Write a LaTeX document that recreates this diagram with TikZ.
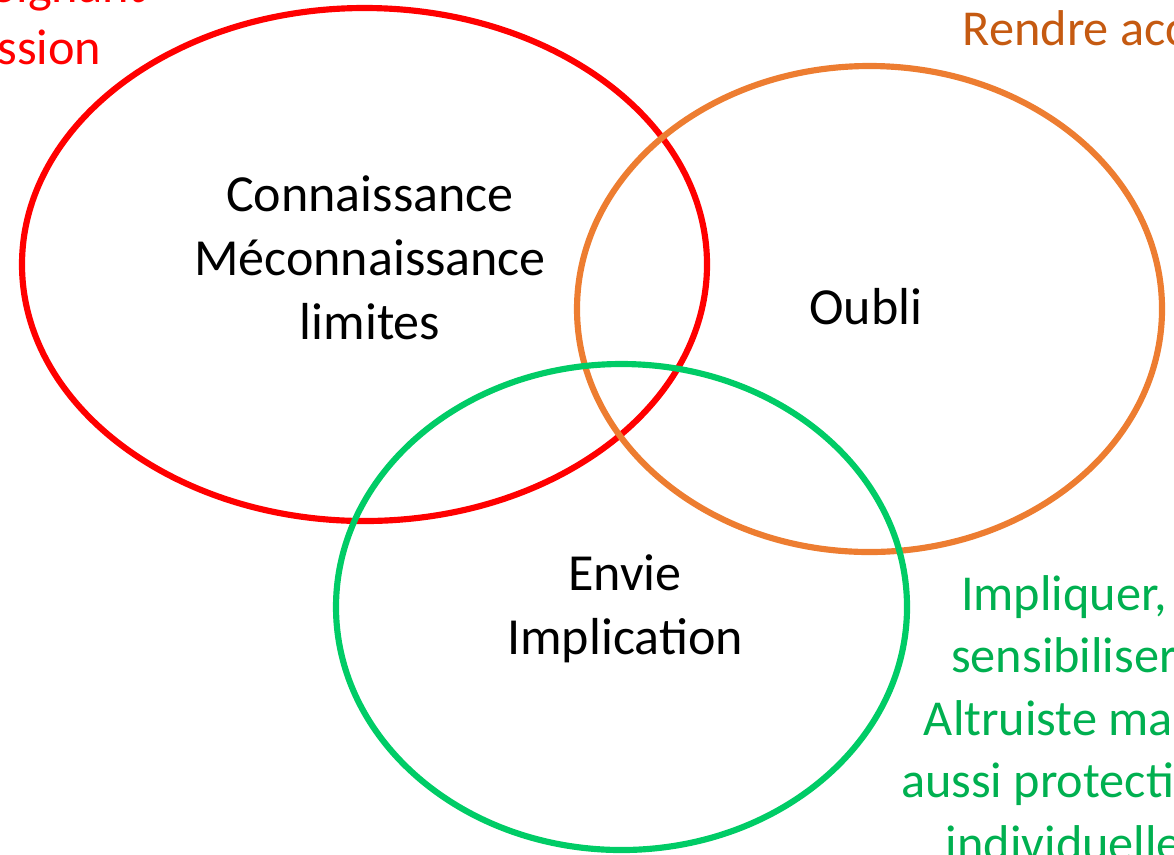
\documentclass[tikz,border=0pt]{standalone}
\usepackage{fontspec}
\setmainfont{Carlito}
\usepackage{xcolor}
\definecolor{RingRed}{HTML}{FF0000}
\definecolor{RingOrange}{HTML}{ED7D31}
\definecolor{RingGreen}{HTML}{00CC66}
\definecolor{NoteOrange}{HTML}{C55A11}
\definecolor{NoteGreen}{HTML}{00B050}

\tikzset{
    ring/.style={line width=1.75pt},
    inner/.style={font=\fontsize{14.8}{18.2}\selectfont, align=center, text=black},
    note/.style={font=\fontsize{14.3}{17.8}\selectfont, align=center}
}

\begin{document}
\begin{tikzpicture}[x=0.01cm, y=-0.01cm]
    \useasboundingbox (0,0) rectangle (1174,854);
    \clip (0,0) rectangle (1174,854);

    % Three rings
    \draw[ring, RingRed] (364.5,264.5) ellipse [x radius=342.5, y radius=256.5];
    \draw[ring, RingOrange] (869.5,309) ellipse [x radius=292.5, y radius=243];
    \draw[ring, RingGreen] (621.5,607) ellipse [x radius=285.5, y radius=243];

    % Labels inside the rings
    \node[inner] (savoir) at (370,258) {Connaissance\\Méconnaissance\\limites};
    \node[inner] (oubli) at (866,307) {Oubli};
    \node[inner] (envie) at (625,609) {Envie\\Implication};

    % Notes at the edges
    \node[note, RingRed, anchor=base east, inner sep=0pt] (soignant) at (146,2) {Soignant};
    \node[note, RingRed, anchor=base east, inner sep=0pt] (passion) at (102,64) {Passion};
    \node[note, NoteOrange, anchor=west, inner sep=0pt] (rendre) at (962,28) {Rendre accessible};
    \node[note, NoteGreen] (impliquer) at (1064,718)
        {Impliquer,\\sensibiliser\\Altruiste mais\\aussi protection\\individuelle};

\end{tikzpicture}
\end{document}
